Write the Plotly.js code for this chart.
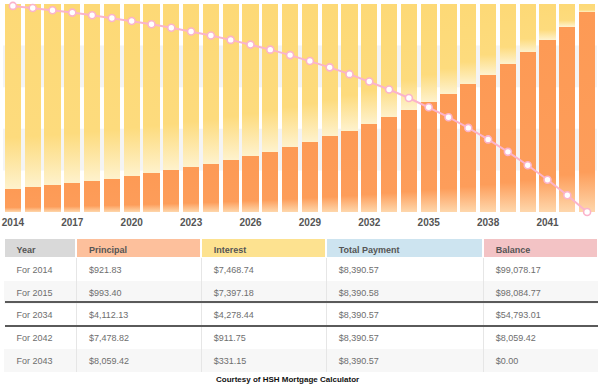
<!DOCTYPE html>
<html>
<head>
<meta charset="utf-8">
<script src="https://cdn.plot.ly/plotly-3.0.1.min.js"></script>
<style>
  html, body { margin: 0; padding: 0; background: #fff; }
  #chart { width: 600px; height: 384px; }
</style>
</head>
<body>
<div id="chart"></div>
<script>
// ---- Chart data ----
const years = [2014,2015,2016,2017,2018,2019,2020,2021,2022,2023,2024,2025,2026,2027,2028,
               2029,2030,2031,2032,2033,2034,2035,2036,2037,2038,2039,2040,2041,2042,2043];
const principal = [921.83,993.40,1070.52,1153.63,1243.19,1339.70,1443.70,1555.78,1676.56,1806.71,
                   1946.97,2098.12,2261.00,2436.53,2625.69,2829.53,3049.19,3285.91,3541.00,3815.90,
                   4112.13,4431.37,4775.39,5146.11,5545.62,5976.14,6440.08,6940.04,7478.82,8059.42];
const interest = [7468.74,7397.18,7320.05,7236.94,7147.38,7050.87,6946.87,6834.79,6714.01,6583.86,
                  6443.60,6292.45,6129.57,5954.04,5764.88,5561.04,5341.38,5104.66,4849.57,4574.67,
                  4278.44,3959.20,3615.18,3244.46,2844.95,2414.43,1950.49,1450.53,911.75,331.15];
const balance = [99078.17,98084.77,97014.25,95860.62,94617.43,93277.73,91834.03,90278.25,88601.69,86794.98,
                 84848.01,82749.89,80488.89,78052.36,75426.67,72597.14,69547.95,66262.04,62721.04,58905.14,
                 54793.01,50361.63,45586.24,40440.13,34894.51,28918.37,22478.29,15538.25,8059.42,0.00];
const tickYears = [2014,2017,2020,2023,2026,2029,2032,2035,2038,2041];

// ---- Table data ----
const tableHeader = ['Year','Principal','Interest','Total Payment','Balance'];
const tableYear = ['For 2014','For 2015','For 2034','For 2042','For 2043'];
const tablePrincipal = ['$921.83','$993.40','$4,112.13','$7,478.82','$8,059.42'];
const tableInterest = ['$7,468.74','$7,397.18','$4,278.44','$911.75','$331.15'];
const tableTotal = ['$8,390.57','$8,390.58','$8,390.57','$8,390.57','$8,390.57'];
const tableBalance = ['$99,078.17','$98,084.77','$54,793.01','$8,059.42','$0.00'];
const footerText = 'Courtesy of HSH Mortgage Calculator';

// ---- Layout helpers (pixel -> paper) ----
const W = 600, H = 384;
const px = x => x / W;
const py = y => 1 - y / H;
const padText = arr => arr.map(s => '\u2002' + s);

const rowFill = ['#ffffff','#f7f7f7','#ffffff','#ffffff','#f7f7f7'];

const traces = [
  {
    type: 'bar', x: years, y: principal, name: 'Principal',
    marker: { color: '#fd9b57', line: { width: 0 } },
    hoverinfo: 'skip'
  },
  {
    type: 'bar', x: years, y: interest, name: 'Interest',
    marker: { color: '#fdd978', line: { width: 0 } },
    hoverinfo: 'skip'
  },
  {
    type: 'scatter', mode: 'lines+markers', x: years, y: balance, yaxis: 'y2', name: 'Balance',
    line: { color: '#fbb3cb', width: 2 },
    marker: { color: '#ffffff', size: 7, line: { color: '#fbb3cb', width: 1.6 } },
    cliponaxis: false, hoverinfo: 'skip'
  },
  {
    type: 'table',
    domain: { x: [px(4), px(598)], y: [py(372), py(238)] },
    columnwidth: [72, 124, 124, 156, 114],
    header: {
      values: padText(tableHeader),
      align: 'left',
      height: 20,
      fill: { color: ['#d9d9d9','#fdc09c','#fde290','#cde4f0','#f3c3c5'] },
      line: { color: '#ffffff', width: 2 },
      font: { family: 'Liberation Sans, Arial, sans-serif', size: 9, color: '#555555', weight: 'bold' }
    },
    cells: {
      values: [padText(tableYear), padText(tablePrincipal), padText(tableInterest), padText(tableTotal), padText(tableBalance)],
      align: 'left',
      height: 22.8,
      fill: { color: [rowFill, rowFill, rowFill, rowFill, rowFill] },
      line: { color: '#ffffff', width: 0 },
      font: { family: 'Liberation Sans, Arial, sans-serif', size: 9, color: '#6e6e6e' }
    }
  }
];

const shapes = [
  // light background bands behind the bars
  { type: 'rect', xref: 'paper', yref: 'y2', x0: px(3), x1: px(597), y0: 60000, y1: 80000,
    fillcolor: '#f4f4f4', line: { width: 0 }, layer: 'below' },
  { type: 'rect', xref: 'paper', yref: 'y2', x0: px(3), x1: px(597), y0: 20000, y1: 40000,
    fillcolor: '#f4f4f4', line: { width: 0 }, layer: 'below' },
  // table column dividers
  ...[76.5, 201.5, 326.5, 483.5].map(x => ({
    type: 'line', xref: 'paper', yref: 'paper', x0: px(x), x1: px(x), y0: py(258), y1: py(372),
    line: { color: '#e6e6e6', width: 1 }
  })),
  // table section separators
  ...[302, 326].map(y => ({
    type: 'line', xref: 'paper', yref: 'paper', x0: px(5), x1: px(598), y0: py(y), y1: py(y),
    line: { color: '#5a5a5a', width: 2 }
  }))
];

const layout = {
  width: W, height: H,
  margin: { l: 0, r: 0, t: 0, b: 0, pad: 0 },
  paper_bgcolor: '#ffffff', plot_bgcolor: 'rgba(0,0,0,0)',
  showlegend: false,
  barmode: 'stack', bargap: 0.19,
  xaxis: {
    domain: [px(3), px(597)],
    tickmode: 'array', tickvals: tickYears, ticktext: tickYears.map(String),
    range: [2013.5, 2043.5],
    showgrid: false, zeroline: false, showline: false, ticks: '',
    ticklabelstandoff: 3,
    tickfont: { family: 'Liberation Sans, Arial, sans-serif', size: 10, color: '#555555', weight: 'bold' },
    fixedrange: true
  },
  yaxis: {
    domain: [py(212), py(4)],
    range: [0, 8390.57],
    visible: false, showgrid: false, zeroline: false, fixedrange: true
  },
  yaxis2: {
    overlaying: 'y', range: [0, 100000],
    visible: false, showgrid: false, zeroline: false, fixedrange: true
  },
  shapes: shapes,
  annotations: [
    { text: footerText, xref: 'paper', yref: 'paper', x: px(287), y: py(379), showarrow: false,
      xanchor: 'center', yanchor: 'middle',
      font: { family: 'Liberation Sans, Arial, sans-serif', size: 8, color: '#111111', weight: 'bold' } }
  ]
};

Plotly.newPlot('chart', traces, layout, { staticPlot: true, displayModeBar: false }).then(gd => {
  // gradient fills for the bars
  const svg = gd.querySelector('.main-svg');
  const ns = 'http://www.w3.org/2000/svg';
  let defs = svg.querySelector('defs');
  if (!defs) { defs = document.createElementNS(ns, 'defs'); svg.insertBefore(defs, svg.firstChild); }
  function grad(id, stops) {
    const g = document.createElementNS(ns, 'linearGradient');
    g.setAttribute('id', id);
    g.setAttribute('x1', '0'); g.setAttribute('y1', '0');
    g.setAttribute('x2', '0'); g.setAttribute('y2', '1');
    stops.forEach(([o, c]) => {
      const s = document.createElementNS(ns, 'stop');
      s.setAttribute('offset', o); s.setAttribute('stop-color', c);
      g.appendChild(s);
    });
    defs.appendChild(g);
  }
  grad('gradPrincipal', [['0', '#fd9a55'], ['0.8', '#fd9d5a'], ['1', '#fed7ac']]);
  grad('gradInterest', [['0', '#fdd976'], ['0.72', '#fddb7d'], ['1', '#fef2cd']]);
  const barTraces = gd.querySelectorAll('.barlayer .trace');
  if (barTraces[0]) barTraces[0].querySelectorAll('path').forEach(p => { p.style.fill = 'url(#gradPrincipal)'; });
  if (barTraces[1]) barTraces[1].querySelectorAll('path').forEach(p => { p.style.fill = 'url(#gradInterest)'; });
});
</script>
</body>
</html>
